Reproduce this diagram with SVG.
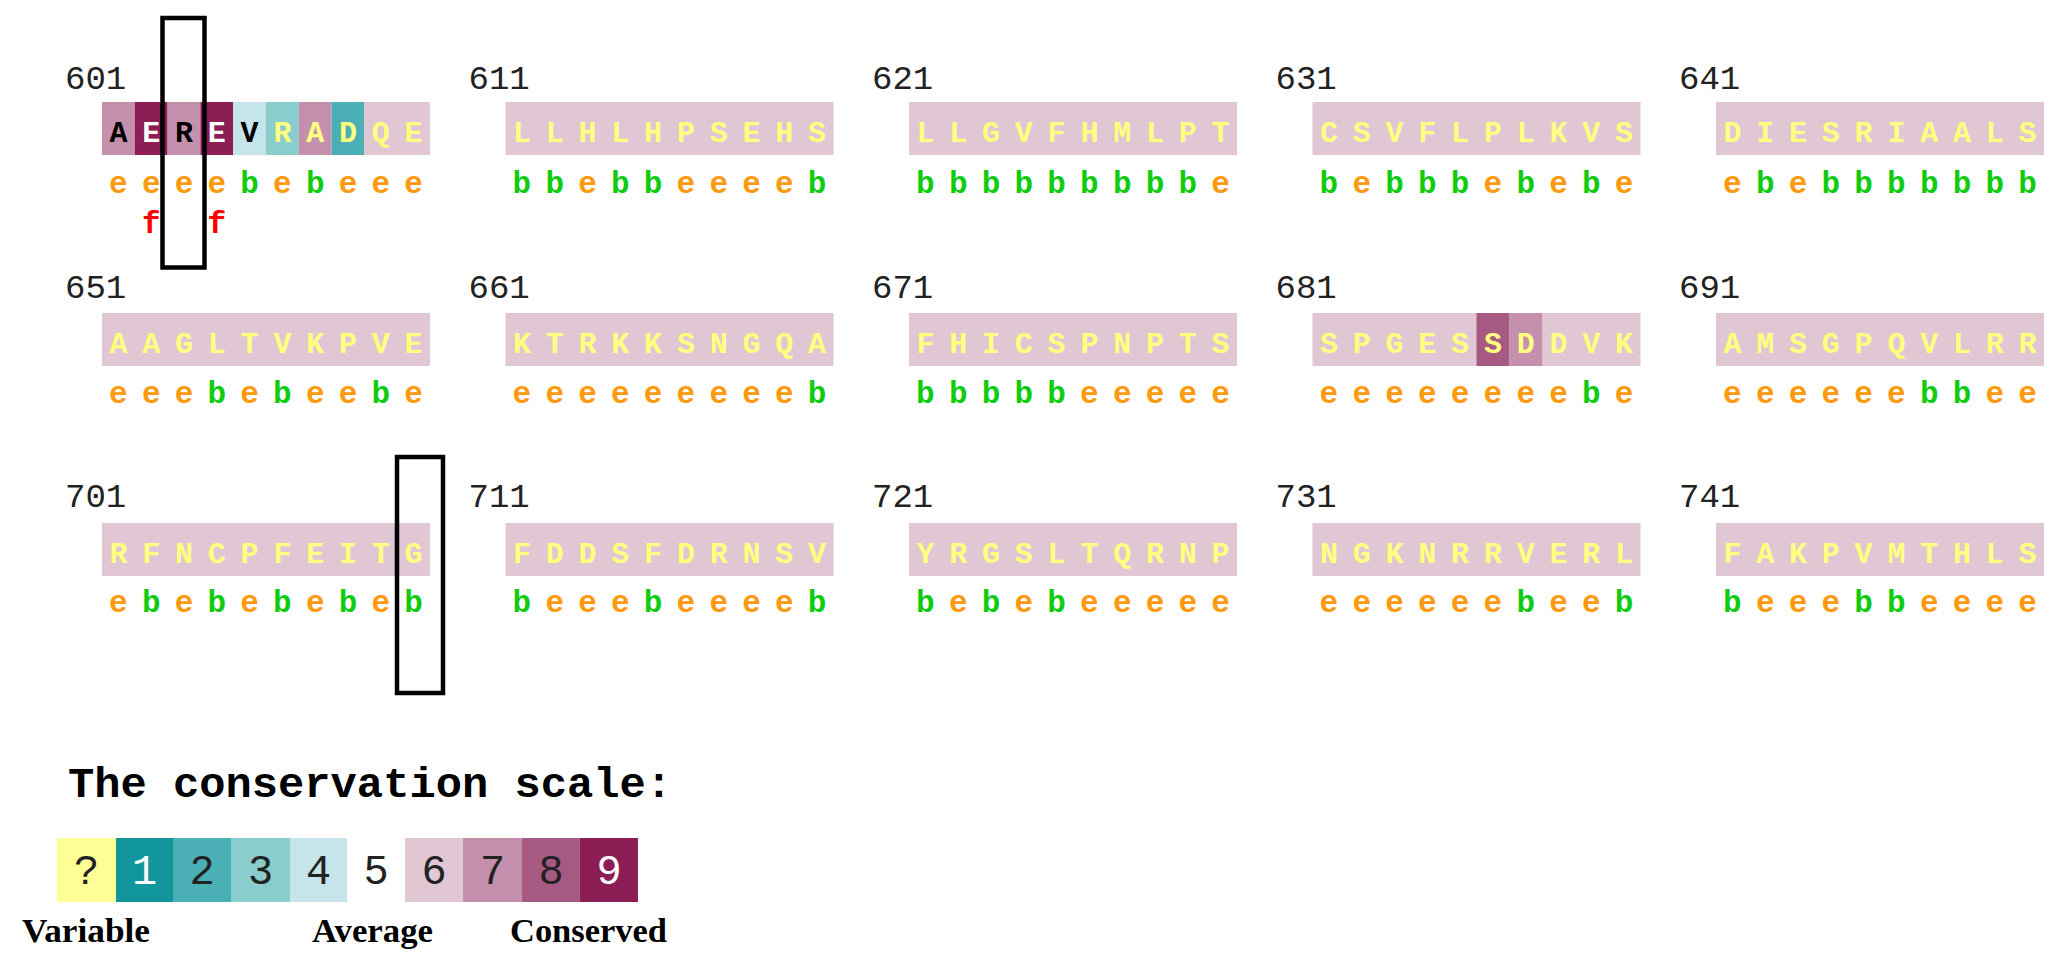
<svg xmlns="http://www.w3.org/2000/svg" width="2067" height="974" viewBox="0 0 2067 974">
<style>
.num{font-family:"Liberation Mono",monospace;font-size:34px;fill:#222}
.aa{font-family:"Liberation Mono",monospace;font-weight:bold;font-size:30px;text-anchor:middle}
.y{fill:#FFFF80}.k{fill:#000}.w{fill:#fff}
.ss{font-family:"Liberation Mono",monospace;font-weight:bold;font-size:31px;text-anchor:middle}
.e{fill:#FF9A10}.b{fill:#10CC10}.f{fill:#FF0000}
.c6{fill:#E1C6D4}.c7{fill:#C490AE}.c8{fill:#A65A82}.c9{fill:#8C1D55}
.c1{fill:#10969C}.c2{fill:#4BAFB6}.c3{fill:#8BCDCD}.c4{fill:#C5E5EA}.cq{fill:#FFFF96}
.box{fill:none;stroke:#000;stroke-width:4.5}
.title{font-family:"Liberation Mono",monospace;font-weight:bold;font-size:42px;fill:#000}
.dig{font-family:"Liberation Mono",monospace;font-size:42px;text-anchor:middle;fill:#222}
.lab{font-family:"Liberation Serif",serif;font-weight:bold;font-size:34px;fill:#000}
</style>
<rect width="2067" height="974" fill="#fff"/>

<!-- Row 1 -->
<g id="b601">
<text class="num" x="65" y="89">601</text>
<rect class="c7" x="102" y="102" width="32.8" height="53"/>
<rect class="c9" x="134.8" y="102" width="32.8" height="53"/>
<rect class="c7" x="167.6" y="102" width="32.8" height="53"/>
<rect class="c9" x="200.4" y="102" width="32.8" height="53"/>
<rect class="c4" x="233.2" y="102" width="32.8" height="53"/>
<rect class="c3" x="266" y="102" width="32.8" height="53"/>
<rect class="c7" x="298.8" y="102" width="32.8" height="53"/>
<rect class="c2" x="331.6" y="102" width="32.8" height="53"/>
<rect class="c6" x="364.4" y="102" width="65.6" height="53"/>
<text class="aa" y="142"><tspan class="k" x="118.4">A</tspan><tspan class="w" x="151.2">E</tspan><tspan class="k" x="184">R</tspan><tspan class="w" x="216.8">E</tspan><tspan class="k" x="249.6">V</tspan><tspan class="y" x="282.4">R</tspan><tspan class="y" x="315.2">A</tspan><tspan class="y" x="348">D</tspan><tspan class="y" x="380.8">Q</tspan><tspan class="y" x="413.6">E</tspan></text>
<text class="ss" y="193"><tspan class="e" x="118.4">e</tspan><tspan class="e" x="151.2">e</tspan><tspan class="e" x="184">e</tspan><tspan class="e" x="216.8">e</tspan><tspan class="b" x="249.6">b</tspan><tspan class="e" x="282.4">e</tspan><tspan class="b" x="315.2">b</tspan><tspan class="e" x="348">e</tspan><tspan class="e" x="380.8">e</tspan><tspan class="e" x="413.6">e</tspan></text>
<text class="ss" y="233"><tspan class="f" x="151.2">f</tspan><tspan class="f" x="216.8">f</tspan></text>
</g>

<g id="b611">
<text class="num" x="468.5" y="89">611</text>
<rect class="c6" x="505.5" y="102" width="328" height="53"/>
<text class="aa y" y="142" x="521.9 554.7 587.5 620.3 653.1 685.9 718.7 751.5 784.3 817.1">LLHLHPSEHS</text>
<text class="ss" y="193"><tspan class="b" x="521.9">b</tspan><tspan class="b" x="554.7">b</tspan><tspan class="e" x="587.5">e</tspan><tspan class="b" x="620.3">b</tspan><tspan class="b" x="653.1">b</tspan><tspan class="e" x="685.9">e</tspan><tspan class="e" x="718.7">e</tspan><tspan class="e" x="751.5">e</tspan><tspan class="e" x="784.3">e</tspan><tspan class="b" x="817.1">b</tspan></text>
</g>

<g id="b621">
<text class="num" x="872" y="89">621</text>
<rect class="c6" x="909" y="102" width="328" height="53"/>
<text class="aa y" y="142" x="925.4 958.2 991 1023.8 1056.6 1089.4 1122.2 1155 1187.8 1220.6">LLGVFHMLPT</text>
<text class="ss" y="193"><tspan class="b" x="925.4">b</tspan><tspan class="b" x="958.2">b</tspan><tspan class="b" x="991">b</tspan><tspan class="b" x="1023.8">b</tspan><tspan class="b" x="1056.6">b</tspan><tspan class="b" x="1089.4">b</tspan><tspan class="b" x="1122.2">b</tspan><tspan class="b" x="1155">b</tspan><tspan class="b" x="1187.8">b</tspan><tspan class="e" x="1220.6">e</tspan></text>
</g>

<g id="b631">
<text class="num" x="1275.5" y="89">631</text>
<rect class="c6" x="1312.5" y="102" width="328" height="53"/>
<text class="aa y" y="142" x="1328.9 1361.7 1394.5 1427.3 1460.1 1492.9 1525.7 1558.5 1591.3 1624.1">CSVFLPLKVS</text>
<text class="ss" y="193"><tspan class="b" x="1328.9">b</tspan><tspan class="e" x="1361.7">e</tspan><tspan class="b" x="1394.5">b</tspan><tspan class="b" x="1427.3">b</tspan><tspan class="b" x="1460.1">b</tspan><tspan class="e" x="1492.9">e</tspan><tspan class="b" x="1525.7">b</tspan><tspan class="e" x="1558.5">e</tspan><tspan class="b" x="1591.3">b</tspan><tspan class="e" x="1624.1">e</tspan></text>
</g>

<g id="b641">
<text class="num" x="1679" y="89">641</text>
<rect class="c6" x="1716" y="102" width="328" height="53"/>
<text class="aa y" y="142" x="1732.4 1765.2 1798 1830.8 1863.6 1896.4 1929.2 1962 1994.8 2027.6">DIESRIAALS</text>
<text class="ss" y="193"><tspan class="e" x="1732.4">e</tspan><tspan class="b" x="1765.2">b</tspan><tspan class="e" x="1798">e</tspan><tspan class="b" x="1830.8">b</tspan><tspan class="b" x="1863.6">b</tspan><tspan class="b" x="1896.4">b</tspan><tspan class="b" x="1929.2">b</tspan><tspan class="b" x="1962">b</tspan><tspan class="b" x="1994.8">b</tspan><tspan class="b" x="2027.6">b</tspan></text>
</g>

<!-- Row 2 -->
<g id="b651">
<text class="num" x="65" y="298">651</text>
<rect class="c6" x="102" y="313" width="328" height="53"/>
<text class="aa y" y="353" x="118.4 151.2 184 216.8 249.6 282.4 315.2 348 380.8 413.6">AAGLTVKPVE</text>
<text class="ss" y="403"><tspan class="e" x="118.4">e</tspan><tspan class="e" x="151.2">e</tspan><tspan class="e" x="184">e</tspan><tspan class="b" x="216.8">b</tspan><tspan class="e" x="249.6">e</tspan><tspan class="b" x="282.4">b</tspan><tspan class="e" x="315.2">e</tspan><tspan class="e" x="348">e</tspan><tspan class="b" x="380.8">b</tspan><tspan class="e" x="413.6">e</tspan></text>
</g>

<g id="b661">
<text class="num" x="468.5" y="298">661</text>
<rect class="c6" x="505.5" y="313" width="328" height="53"/>
<text class="aa y" y="353" x="521.9 554.7 587.5 620.3 653.1 685.9 718.7 751.5 784.3 817.1">KTRKKSNGQA</text>
<text class="ss" y="403"><tspan class="e" x="521.9">e</tspan><tspan class="e" x="554.7">e</tspan><tspan class="e" x="587.5">e</tspan><tspan class="e" x="620.3">e</tspan><tspan class="e" x="653.1">e</tspan><tspan class="e" x="685.9">e</tspan><tspan class="e" x="718.7">e</tspan><tspan class="e" x="751.5">e</tspan><tspan class="e" x="784.3">e</tspan><tspan class="b" x="817.1">b</tspan></text>
</g>

<g id="b671">
<text class="num" x="872" y="298">671</text>
<rect class="c6" x="909" y="313" width="328" height="53"/>
<text class="aa y" y="353" x="925.4 958.2 991 1023.8 1056.6 1089.4 1122.2 1155 1187.8 1220.6">FHICSPNPTS</text>
<text class="ss" y="403"><tspan class="b" x="925.4">b</tspan><tspan class="b" x="958.2">b</tspan><tspan class="b" x="991">b</tspan><tspan class="b" x="1023.8">b</tspan><tspan class="b" x="1056.6">b</tspan><tspan class="e" x="1089.4">e</tspan><tspan class="e" x="1122.2">e</tspan><tspan class="e" x="1155">e</tspan><tspan class="e" x="1187.8">e</tspan><tspan class="e" x="1220.6">e</tspan></text>
</g>

<g id="b681">
<text class="num" x="1275.5" y="298">681</text>
<rect class="c6" x="1312.5" y="313" width="328" height="53"/>
<rect class="c8" x="1476.5" y="313" width="32.8" height="53"/>
<rect class="c7" x="1509.3" y="313" width="32.8" height="53"/>
<text class="aa y" y="353" x="1328.9 1361.7 1394.5 1427.3 1460.1 1492.9 1525.7 1558.5 1591.3 1624.1">SPGESSDDVK</text>
<text class="ss" y="403"><tspan class="e" x="1328.9">e</tspan><tspan class="e" x="1361.7">e</tspan><tspan class="e" x="1394.5">e</tspan><tspan class="e" x="1427.3">e</tspan><tspan class="e" x="1460.1">e</tspan><tspan class="e" x="1492.9">e</tspan><tspan class="e" x="1525.7">e</tspan><tspan class="e" x="1558.5">e</tspan><tspan class="b" x="1591.3">b</tspan><tspan class="e" x="1624.1">e</tspan></text>
</g>

<g id="b691">
<text class="num" x="1679" y="298">691</text>
<rect class="c6" x="1716" y="313" width="328" height="53"/>
<text class="aa y" y="353" x="1732.4 1765.2 1798 1830.8 1863.6 1896.4 1929.2 1962 1994.8 2027.6">AMSGPQVLRR</text>
<text class="ss" y="403"><tspan class="e" x="1732.4">e</tspan><tspan class="e" x="1765.2">e</tspan><tspan class="e" x="1798">e</tspan><tspan class="e" x="1830.8">e</tspan><tspan class="e" x="1863.6">e</tspan><tspan class="e" x="1896.4">e</tspan><tspan class="b" x="1929.2">b</tspan><tspan class="b" x="1962">b</tspan><tspan class="e" x="1994.8">e</tspan><tspan class="e" x="2027.6">e</tspan></text>
</g>

<!-- Row 3 -->
<g id="b701">
<text class="num" x="65" y="507">701</text>
<rect class="c6" x="102" y="523" width="328" height="53"/>
<text class="aa y" y="563" x="118.4 151.2 184 216.8 249.6 282.4 315.2 348 380.8 413.6">RFNCPFEITG</text>
<text class="ss" y="612"><tspan class="e" x="118.4">e</tspan><tspan class="b" x="151.2">b</tspan><tspan class="e" x="184">e</tspan><tspan class="b" x="216.8">b</tspan><tspan class="e" x="249.6">e</tspan><tspan class="b" x="282.4">b</tspan><tspan class="e" x="315.2">e</tspan><tspan class="b" x="348">b</tspan><tspan class="e" x="380.8">e</tspan><tspan class="b" x="413.6">b</tspan></text>
</g>

<g id="b711">
<text class="num" x="468.5" y="507">711</text>
<rect class="c6" x="505.5" y="523" width="328" height="53"/>
<text class="aa y" y="563" x="521.9 554.7 587.5 620.3 653.1 685.9 718.7 751.5 784.3 817.1">FDDSFDRNSV</text>
<text class="ss" y="612"><tspan class="b" x="521.9">b</tspan><tspan class="e" x="554.7">e</tspan><tspan class="e" x="587.5">e</tspan><tspan class="e" x="620.3">e</tspan><tspan class="b" x="653.1">b</tspan><tspan class="e" x="685.9">e</tspan><tspan class="e" x="718.7">e</tspan><tspan class="e" x="751.5">e</tspan><tspan class="e" x="784.3">e</tspan><tspan class="b" x="817.1">b</tspan></text>
</g>

<g id="b721">
<text class="num" x="872" y="507">721</text>
<rect class="c6" x="909" y="523" width="328" height="53"/>
<text class="aa y" y="563" x="925.4 958.2 991 1023.8 1056.6 1089.4 1122.2 1155 1187.8 1220.6">YRGSLTQRNP</text>
<text class="ss" y="612"><tspan class="b" x="925.4">b</tspan><tspan class="e" x="958.2">e</tspan><tspan class="b" x="991">b</tspan><tspan class="e" x="1023.8">e</tspan><tspan class="b" x="1056.6">b</tspan><tspan class="e" x="1089.4">e</tspan><tspan class="e" x="1122.2">e</tspan><tspan class="e" x="1155">e</tspan><tspan class="e" x="1187.8">e</tspan><tspan class="e" x="1220.6">e</tspan></text>
</g>

<g id="b731">
<text class="num" x="1275.5" y="507">731</text>
<rect class="c6" x="1312.5" y="523" width="328" height="53"/>
<text class="aa y" y="563" x="1328.9 1361.7 1394.5 1427.3 1460.1 1492.9 1525.7 1558.5 1591.3 1624.1">NGKNRRVERL</text>
<text class="ss" y="612"><tspan class="e" x="1328.9">e</tspan><tspan class="e" x="1361.7">e</tspan><tspan class="e" x="1394.5">e</tspan><tspan class="e" x="1427.3">e</tspan><tspan class="e" x="1460.1">e</tspan><tspan class="e" x="1492.9">e</tspan><tspan class="b" x="1525.7">b</tspan><tspan class="e" x="1558.5">e</tspan><tspan class="e" x="1591.3">e</tspan><tspan class="b" x="1624.1">b</tspan></text>
</g>

<g id="b741">
<text class="num" x="1679" y="507">741</text>
<rect class="c6" x="1716" y="523" width="328" height="53"/>
<text class="aa y" y="563" x="1732.4 1765.2 1798 1830.8 1863.6 1896.4 1929.2 1962 1994.8 2027.6">FAKPVMTHLS</text>
<text class="ss" y="612"><tspan class="b" x="1732.4">b</tspan><tspan class="e" x="1765.2">e</tspan><tspan class="e" x="1798">e</tspan><tspan class="e" x="1830.8">e</tspan><tspan class="b" x="1863.6">b</tspan><tspan class="b" x="1896.4">b</tspan><tspan class="e" x="1929.2">e</tspan><tspan class="e" x="1962">e</tspan><tspan class="e" x="1994.8">e</tspan><tspan class="e" x="2027.6">e</tspan></text>
</g>

<!-- Highlight boxes -->
<g id="highlights">
<rect class="box" x="162.5" y="18" width="42" height="249.5"/>
<rect class="box" x="397" y="457" width="46" height="236"/>
</g>

<!-- Legend -->
<g id="legend">
<text class="title" x="68" y="797" textLength="604" lengthAdjust="spacingAndGlyphs">The conservation scale:</text>
<rect class="cq" x="57" y="838" width="59" height="64"/>
<rect class="c1" x="116" y="838" width="57" height="64"/>
<rect class="c2" x="173" y="838" width="58" height="64"/>
<rect class="c3" x="231" y="838" width="59" height="64"/>
<rect class="c4" x="290" y="838" width="57" height="64"/>
<rect class="c6" x="405" y="838" width="58" height="64"/>
<rect class="c7" x="463" y="838" width="59" height="64"/>
<rect class="c8" x="522" y="838" width="57.5" height="64"/>
<rect class="c9" x="579.5" y="838" width="58.5" height="64"/>
<text class="dig" y="884"><tspan x="86.5">?</tspan><tspan x="144.5" fill="#fff">1</tspan><tspan x="202">2</tspan><tspan x="260.5">3</tspan><tspan x="318.5">4</tspan><tspan x="376">5</tspan><tspan x="434">6</tspan><tspan x="492.5">7</tspan><tspan x="551">8</tspan><tspan x="609" fill="#fff">9</tspan></text>
<text class="lab" x="22" y="942" textLength="128" lengthAdjust="spacingAndGlyphs">Variable</text>
<text class="lab" x="312" y="942" textLength="121" lengthAdjust="spacingAndGlyphs">Average</text>
<text class="lab" x="510" y="942" textLength="157" lengthAdjust="spacingAndGlyphs">Conserved</text>
</g>
</svg>
